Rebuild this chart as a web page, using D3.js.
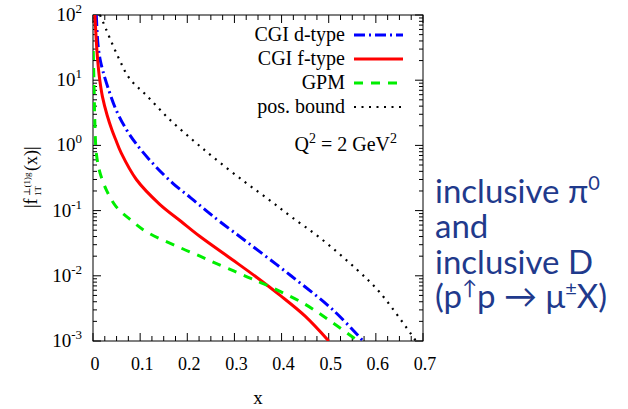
<!DOCTYPE html>
<html>
<head>
<meta charset="utf-8">
<script src="https://cdn.jsdelivr.net/npm/d3@7"></script>
<style>
  body { margin: 0; background: #fff; }
  svg { display: block; }
</style>
</head>
<body>
<div id="chart"></div>
<script>
// values: [x, |f|]
var cgiD = [[0.007,100],[0.0106,35],[0.015,21],[0.021,13.8],[0.032,7.6],[0.049,3.5],[0.071,1.74],[0.092,1.05],
            [0.13,0.5],[0.17,0.26],[0.206,0.16],[0.24,0.1],[0.269,0.068],[0.329,0.032],[0.42,0.01],
            [0.509,0.003],[0.573,0.001]];
var cgiF = [[0.004,100],[0.007,40],[0.01,20],[0.014,10.5],[0.02,5.6],[0.03,2.9],[0.04,1.74],[0.048,1.23],
            [0.06,0.76],[0.092,0.3],[0.141,0.126],[0.187,0.068],[0.227,0.04],
            [0.295,0.0178],[0.347,0.0095],[0.397,0.005],[0.45,0.0024],[0.5,0.001]];
var gpm  = [[0.0005,28],[0.002,9.5],[0.0035,2.9],[0.005,1.3],[0.007,0.76],[0.014,0.40],[0.028,0.21],[0.049,0.115],
            [0.078,0.074],[0.114,0.047],[0.185,0.027],[0.227,0.02],[0.252,0.0166],[0.287,0.0129],[0.322,0.01],
            [0.361,0.0076],[0.446,0.0038],[0.509,0.0019],[0.562,0.001]];
var posBound = [[0.015,100],[0.021,79],[0.053,23],[0.078,10.5],[0.113,5.9],[0.16,2.6],[0.212,1.2],[0.255,0.66],
                [0.322,0.275],[0.375,0.144],[0.422,0.079],[0.482,0.038],[0.559,0.0126],[0.609,0.0055],[0.685,0.001]];

var xTicks = [0, 0.1, 0.2, 0.3, 0.4, 0.5, 0.6, 0.7];
var xTickLabels = ["0", "0.1", "0.2", "0.3", "0.4", "0.5", "0.6", "0.7"];
var yExponents = [2, 1, 0, -1, -2, -3];

var legendNames = ["CGI d-type", "CGI f-type", "GPM", "pos. bound"];

var W = 628, H = 409;
var margin = {top: 15, right: 205, bottom: 68, left: 93};
var width = W - margin.left - margin.right,
    height = H - margin.top - margin.bottom;

var svg = d3.select("#chart").append("svg")
    .attr("width", W).attr("height", H);

var x = d3.scaleLinear().domain([0, 0.7]).range([margin.left, margin.left + width]);
var y = d3.scaleLog().domain([1e-3, 1e2]).range([margin.top + height, margin.top]);

var serif = "'Liberation Serif', 'DejaVu Serif', serif";

// clip
svg.append("clipPath").attr("id", "clip")
  .append("rect")
  .attr("x", margin.left).attr("y", margin.top)
  .attr("width", width).attr("height", height);

// x ticks (inward, bottom and top)
var xMinor = d3.range(0, 0.7001, 0.025);
xMinor.forEach(function(t) {
  var major = Math.abs(t * 10 - Math.round(t * 10)) < 1e-6;
  var len = major ? 8 : 5;
  svg.append("line").attr("x1", x(t)).attr("x2", x(t))
    .attr("y1", y(1e-3)).attr("y2", y(1e-3) - len)
    .attr("stroke", "#000").attr("stroke-width", 1);
  svg.append("line").attr("x1", x(t)).attr("x2", x(t))
    .attr("y1", y(1e2)).attr("y2", y(1e2) + len)
    .attr("stroke", "#000").attr("stroke-width", 1);
});

// y ticks (log)
var yMinor = [];
for (var e = -3; e < 2; e++) {
  for (var m = 1; m < 10; m++) yMinor.push(m * Math.pow(10, e));
}
yMinor.push(100);
yMinor.forEach(function(v) {
  var lg = Math.log10(v);
  var major = Math.abs(lg - Math.round(lg)) < 1e-6;
  var len = major ? 8 : 4;
  svg.append("line").attr("x1", x(0)).attr("x2", x(0) + len)
    .attr("y1", y(v)).attr("y2", y(v))
    .attr("stroke", "#000").attr("stroke-width", 1);
  svg.append("line").attr("x1", x(0.7)).attr("x2", x(0.7) - len)
    .attr("y1", y(v)).attr("y2", y(v))
    .attr("stroke", "#000").attr("stroke-width", 1);
});

// frame
svg.append("rect")
  .attr("x", margin.left).attr("y", margin.top)
  .attr("width", width).attr("height", height)
  .attr("fill", "none").attr("stroke", "#000").attr("stroke-width", 1);

// x tick labels
svg.selectAll(".xlab").data(xTicks).join("text")
  .attr("x", function(d) { return x(d) + 2; })
  .attr("y", 370)
  .attr("text-anchor", "middle")
  .attr("font-family", serif).attr("font-size", 18)
  .text(function(d, i) { return xTickLabels[i]; });

// y tick labels
yExponents.forEach(function(e) {
  var t = svg.append("text")
    .attr("x", 82).attr("y", y(Math.pow(10, e)) + 6)
    .attr("text-anchor", "end")
    .attr("font-family", serif).attr("font-size", 19);
  t.append("tspan").text("10");
  t.append("tspan").attr("dy", -8).attr("font-size", 13).text(String(e));
});

// axis titles
svg.append("text").attr("x", 258).attr("y", 404)
  .attr("text-anchor", "middle")
  .attr("font-family", serif).attr("font-size", 19).text("x");

var yl = svg.append("g").attr("transform", "translate(37,208) rotate(-90)")
  .attr("font-family", serif);
yl.append("text").attr("x", 0).attr("y", 0).attr("font-size", 18).text("|f");
yl.append("text").attr("x", 12).attr("y", 4).attr("font-size", 9).text("1T");
yl.append("text").attr("x", 12).attr("y", -7).attr("font-size", 9).text("⊥(1)g");
yl.append("text").attr("x", 37).attr("y", 0).attr("font-size", 18).text("(x)|");

// curves
var line = d3.line()
  .x(function(d) { return x(d[0]); })
  .y(function(d) { return y(d[1]); })
  .curve(d3.curveCatmullRom.alpha(0.5));

var series = [
  {data: cgiD, color: "#0000ff", width: 3, dash: "11,4,2,4"},
  {data: cgiF, color: "#ff0000", width: 3, dash: null},
  {data: gpm, color: "#00ee00", width: 3, dash: "9,8"},
  {data: posBound, color: "#000000", width: 2.2, dash: "2,5.5"}
];

var plot = svg.append("g").attr("clip-path", "url(#clip)");
series.forEach(function(s) {
  plot.append("path").datum(s.data)
    .attr("d", line)
    .attr("fill", "none")
    .attr("stroke", s.color)
    .attr("stroke-width", s.width)
    .attr("stroke-dasharray", s.dash);
});

// legend
var legY = [41, 65, 89, 113];
legendNames.forEach(function(name, i) {
  svg.append("text").attr("x", 345).attr("y", legY[i])
    .attr("text-anchor", "end")
    .attr("font-family", serif).attr("font-size", 20).text(name);
  svg.append("line")
    .attr("x1", 354).attr("x2", 403)
    .attr("y1", legY[i] - 6).attr("y2", legY[i] - 6)
    .attr("stroke", series[i].color)
    .attr("stroke-width", series[i].width)
    .attr("stroke-dasharray", series[i].dash);
});

// Q^2 label
var q = svg.append("text").attr("x", 397).attr("y", 151)
  .attr("text-anchor", "end")
  .attr("font-family", serif).attr("font-size", 20);
q.append("tspan").text("Q");
q.append("tspan").attr("dy", -8).attr("font-size", 14).text("2");
q.append("tspan").attr("dy", 8).text(" = 2 GeV");
q.append("tspan").attr("dy", -8).attr("font-size", 14).text("2");

// annotation on the right
var ann = svg.append("g").attr("font-family", "Lato, 'Open Sans', sans-serif")
  .attr("fill", "#1f3a8c").attr("font-size", 33);
var a1 = ann.append("text").attr("x", 435).attr("y", 203);
a1.append("tspan").text("inclusive π");
a1.append("tspan").attr("dy", -13).attr("font-size", 20).text("0");
ann.append("text").attr("x", 435).attr("y", 238).text("and");
ann.append("text").attr("x", 435).attr("y", 274).text("inclusive D");
var a4 = ann.append("text").attr("x", 435).attr("y", 308);
a4.append("tspan").text("(p");
a4.append("tspan").attr("dy", -13).attr("font-size", 20).text("↑");
a4.append("tspan").attr("dy", 13).text("p → μ");
a4.append("tspan").attr("dy", -13).attr("font-size", 20).text("±");
a4.append("tspan").attr("dy", 13).text("X)");
</script>
</body>
</html>
